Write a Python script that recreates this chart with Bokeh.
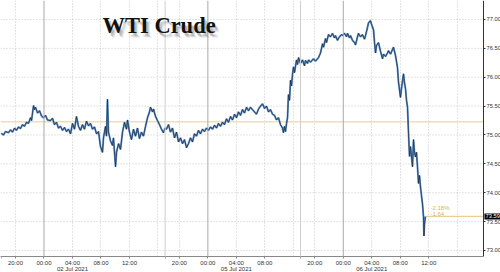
from bokeh.plotting import figure
from bokeh.models import (Range1d, FixedTicker, Span, Label, NumeralTickFormatter)
from bokeh.embed import file_html
from bokeh.resources import INLINE

# ---- data: trading-clock hours since Thu 01 Jul 2021 18:00 (session gaps removed)
hours = [
    0.00, 0.32, 0.60, 1.02, 1.30, 1.58, 1.86, 2.14, 2.42, 2.70, 2.98, 3.26, 3.54, 3.82,
    4.11, 4.25, 4.53, 4.67, 4.81, 5.09, 5.37, 5.65, 5.93, 6.21, 6.49, 6.91, 7.19, 7.47,
    7.75, 8.04, 8.32, 8.60, 8.88, 9.16, 9.44, 9.72, 10.00, 10.28, 10.56, 10.84, 11.12,
    11.40, 11.68, 11.96, 12.25, 12.53, 12.81, 13.09, 13.37, 13.65, 13.93, 14.21, 14.35,
    14.63, 14.77, 14.91, 15.05, 15.33, 15.61, 15.75, 16.04, 16.18, 16.46, 16.74, 17.02,
    17.30, 17.58, 17.72, 18.00, 18.28, 18.56, 18.84, 19.12, 19.40, 19.68, 19.96, 20.25,
    20.53, 20.81, 20.95, 21.23, 21.37, 21.65, 21.93, 22.21, 22.49, 22.77, 22.98,
    # Sun 04 Jul 18:00 onwards
    23.19, 23.47, 23.75, 24.03, 24.32, 24.60, 24.88, 25.16, 25.44, 25.72, 26.00, 26.28,
    26.56, 26.84, 27.12, 27.40, 27.68, 27.96, 28.25, 28.53, 28.81, 29.09, 29.37, 29.65,
    29.93, 30.21, 30.49, 30.77, 31.05, 31.33, 31.61, 31.89, 32.18, 32.46, 32.74, 33.02,
    33.30, 33.58, 33.86, 34.14, 34.42, 34.70, 34.98, 35.26, 35.54, 35.82, 36.11, 36.39,
    36.67, 36.95, 37.23, 37.51, 37.79, 38.07, 38.35, 38.63, 38.91, 39.19, 39.47, 39.61,
    39.75, 39.89, 40.04, 40.18, 40.31, 40.46, 40.60, 40.74, 40.88, 41.02, 41.16, 41.44,
    41.58, 41.72,
    # Mon 05 Jul 18:00 onwards
    42.00, 42.28, 42.56, 42.70, 42.98, 43.12, 43.40, 43.82, 44.10, 44.53, 44.81, 45.09,
    45.23, 45.51, 45.65, 45.93, 46.21, 46.49, 46.77, 46.91, 47.19, 47.47, 47.75, 47.89,
    48.17, 48.46, 48.60, 48.88, 49.02, 49.30, 49.58, 49.72, 50.00, 50.14, 50.42, 50.70,
    50.98, 51.12, 51.40, 51.54, 51.82, 51.96, 52.25, 52.39, 52.53, 52.67, 52.95, 53.23,
    53.51, 53.65, 53.93, 54.21, 54.35, 54.63, 54.91, 55.05, 55.33, 55.61, 55.75, 56.03,
    56.17, 56.32, 56.46, 56.60, 56.74, 56.88, 57.02, 57.16, 57.30, 57.44, 57.72, 57.86,
    58.00, 58.14, 58.28, 58.42, 58.56, 58.70, 58.84, 58.98, 59.12, 59.26, 59.33, 59.40,
    59.54,
]
price = [
    75.03, 75.00, 75.06, 75.04, 75.09, 75.05, 75.12, 75.08, 75.14, 75.11, 75.18, 75.15, 75.22, 75.20,
    75.30, 75.25, 75.51, 75.44, 75.48, 75.38, 75.42, 75.33, 75.30, 75.34, 75.26, 75.25, 75.29, 75.18,
    75.22, 75.12, 75.15, 75.08, 75.13, 75.06, 75.10, 75.02, 75.20, 75.10, 75.32, 75.15, 75.08,
    75.18, 75.10, 75.24, 75.16, 75.20, 75.10, 75.14, 75.02, 75.06, 74.80, 74.70, 74.95,
    75.15, 74.98, 75.62, 75.05, 74.90, 74.82, 74.95, 74.45, 74.70, 74.85, 74.75, 75.05,
    75.22, 75.10, 75.26, 75.05, 74.92, 75.10, 74.98, 75.12, 74.94, 75.05, 74.98, 75.15,
    75.30, 75.40, 75.48, 75.40, 75.45, 75.32, 75.25, 75.18, 75.10, 75.04, 75.12,
    75.10, 75.18, 75.05, 75.12, 74.95, 75.05, 74.88, 74.95, 74.85, 74.92, 74.78, 74.85,
    74.95, 74.88, 75.02, 74.98, 75.08, 75.02, 75.10, 75.06, 75.12, 75.08, 75.14, 75.10,
    75.17, 75.12, 75.20, 75.15, 75.22, 75.18, 75.28, 75.22, 75.32, 75.26, 75.36, 75.30,
    75.40, 75.34, 75.44, 75.38, 75.48, 75.42, 75.48, 75.44, 75.40, 75.36, 75.45, 75.50,
    75.54, 75.46, 75.50, 75.40, 75.44, 75.36, 75.34, 75.26, 75.30, 75.18, 75.12, 75.04,
    75.15, 75.06, 75.20, 75.30, 75.70, 75.60, 75.95, 75.85, 76.05, 76.18, 76.08, 76.30,
    76.22, 76.34,
    76.24, 76.30, 76.20, 76.29, 76.24, 76.30, 76.26, 76.32, 76.28, 76.34, 76.42, 76.58,
    76.52, 76.67, 76.60, 76.74, 76.70, 76.76, 76.68, 76.72, 76.64, 76.70, 76.74, 76.72,
    76.76, 76.70, 76.76, 76.68, 76.72, 76.64, 76.60, 76.56, 76.70, 76.76, 76.70, 76.74,
    76.66, 76.72, 76.86, 76.94, 76.98, 76.92, 76.82, 76.60, 76.42, 76.55, 76.60, 76.45,
    76.32, 76.40, 76.36, 76.42, 76.46, 76.40, 76.48, 76.52, 76.38, 76.17, 75.92, 75.65,
    75.80, 75.94, 76.06, 75.90, 75.80, 75.60, 75.48, 75.03, 74.63, 74.80, 74.45, 74.92,
    74.70, 74.62, 74.70, 74.45, 74.16, 74.30, 74.10, 73.95, 73.81, 73.59, 73.25, 73.45,
    73.59,
]
prev_close = 75.23
title = "WTI Crude"

# x-axis ticks (trading-clock hours) and labels
tick_hours = [2, 6, 10, 14, 18, 25, 29, 33, 37, 44, 48, 52, 56, 60]
tick_labels = ["20:00", "00:00", "04:00\n02 Jul 2021", "08:00", "12:00",
               "20:00", "00:00", "04:00\n05 Jul 2021", "08:00",
               "20:00", "00:00", "04:00\n06 Jul 2021", "08:00", "12:00"]
grid_hours = [2, 10, 14, 18, 22, 25, 33, 37, 41, 44, 52, 56, 60, 64]
day_hours = [6, 29, 48]          # midnights
break_hours = [0, 23, 42]        # session gaps
y_ticks = [73.0, 73.5, 74.0, 74.5, 75.0, 75.5, 76.0, 76.5, 77.0]

last_t, last_p = hours[-1], price[-1]
chg = last_p - prev_close
pct = chg / prev_close * 100

X0, X1 = -0.105, 70.07      # full canvas width
AX = 67.68                  # where the price axis sits
p = figure(frame_width=500, frame_height=256, output_backend="svg",
           toolbar_location=None, x_range=Range1d(X0, X1),
           y_range=Range1d(72.896, 77.329), y_axis_location="right",
           min_border_left=0, min_border_top=0, min_border_right=0,
           min_border_bottom=0, background_fill_color="white",
           border_fill_color="white", outline_line_color=None)

# grids
p.ygrid.visible = False
p.segment(x0=X0, x1=AX, y0=y_ticks, y1=y_ticks, line_color="#c8c8c8",
          line_dash="1 2", line_width=1)
p.xgrid.ticker = FixedTicker(ticks=grid_hours)
p.xgrid.grid_line_color = "#c8c8c8"
p.xgrid.grid_line_dash = "1 2"
for h in day_hours:
    p.add_layout(Span(location=h, dimension="height", line_color="#a8a8a8", line_width=1))
for h in break_hours[1:]:
    p.add_layout(Span(location=h, dimension="height", line_color="#cfcfcf", line_width=1))

# previous close line
p.line([X0, AX], [prev_close, prev_close], line_color="#f1dfb0", line_width=1.5)

# price series
p.line(hours, price, line_color="#3f7fc6", line_width=1.9, line_alpha=0.85)
p.line(hours, price, line_color="#1c2636", line_width=0.7)

# last price line
p.line([last_t, AX], [last_p, last_p], line_color="#e9cf93", line_width=1.2)

lab_font = "Liberation Sans"
p.add_layout(Label(x=last_t, y=last_p, text=f"{pct:.2f}%", x_offset=5, y_offset=8,
                   text_font=lab_font, text_font_size="6px", text_color="#d6b060",
                   text_baseline="middle"))
p.add_layout(Label(x=last_t, y=last_p, text=f"{chg:.2f}", x_offset=5, y_offset=2,
                   text_font=lab_font, text_font_size="6px", text_color="#d6b060",
                   text_baseline="middle"))

# title with shadow
for dx, dy, a in [(4, -5, 0.10), (3, -4, 0.18), (2, -3, 0.22)]:
    p.add_layout(Label(x=102 + dx, y=219 + dy, x_units="screen", y_units="screen",
                       text=title, text_font="Liberation Serif", text_font_style="bold",
                       text_font_size="22.5px", text_color="#555555", text_alpha=a))
p.add_layout(Label(x=102, y=219, x_units="screen", y_units="screen", text=title,
                   text_font="Liberation Serif", text_font_style="bold",
                   text_font_size="22.5px", text_color="#111111"))

# axes
xa = p.xaxis[0]
xa.bounds = (X0, AX)
xa.ticker = FixedTicker(ticks=tick_hours, minor_ticks=break_hours)
xa.major_label_overrides = {t: l for t, l in zip(tick_hours, tick_labels)}
xa.major_label_text_font = lab_font
xa.major_label_text_font_size = "6px"
xa.major_label_text_color = "#333333"
xa.major_label_text_line_height = 1.0
xa.major_label_standoff = 1
xa.major_tick_out = 2
xa.major_tick_in = 0
xa.minor_tick_out = 2
xa.minor_tick_in = 0
xa.minor_tick_line_color = "#b0b0b0"
xa.major_tick_line_color = "#888888"
xa.axis_line_color = "#888888"

ya = p.yaxis[0]
ya.fixed_location = AX
ya.ticker = FixedTicker(ticks=y_ticks)
ya.formatter = NumeralTickFormatter(format="0.00")
ya.major_label_text_font = lab_font
ya.major_label_text_font_size = "5.8px"
ya.major_label_text_color = "#333333"
ya.major_label_standoff = 1
ya.major_tick_out = 2
ya.major_tick_in = 0
ya.minor_tick_out = 0
ya.minor_tick_in = 0
ya.axis_line_color = "#333333"
ya.major_tick_line_color = "#333333"

# last-price tag on the axis
p.add_layout(Label(x=AX, y=last_p, text=f"{last_p:.2f}", x_offset=1,
                   text_font=lab_font, text_font_size="5.8px", text_color="white",
                   text_baseline="middle", background_fill_color="black",
                   padding=1, level="overlay"))

open("out.html", "w").write(file_html(p, INLINE))
